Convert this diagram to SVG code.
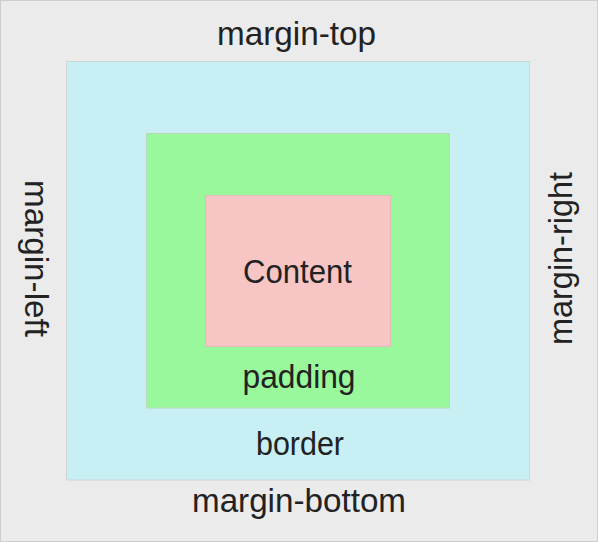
<svg xmlns="http://www.w3.org/2000/svg" width="598" height="542" viewBox="0 0 598 542">
<style>
  .lbl { font-family: "Liberation Sans", Arial, sans-serif; font-size: 34px; fill: #222222; }
  .box { stroke-width: 1; }
</style>
<g id="margin">
  <rect x="0.5" y="0.5" width="597" height="541" fill="#ebebeb" stroke="#cdcdcd"/>
  <text class="lbl" x="296.5" y="45" text-anchor="middle" textLength="159" lengthAdjust="spacingAndGlyphs">margin-top</text>
  <text class="lbl" x="299" y="512" text-anchor="middle" textLength="214" lengthAdjust="spacingAndGlyphs">margin-bottom</text>
  <text class="lbl" transform="translate(25,258.5) rotate(90)" x="0" y="0" text-anchor="middle" textLength="157" lengthAdjust="spacingAndGlyphs">margin-left</text>
  <text class="lbl" transform="translate(572,258.5) rotate(-90)" x="0" y="0" text-anchor="middle" textLength="173" lengthAdjust="spacingAndGlyphs">margin-right</text>
</g>
<g id="border">
  <rect class="box" x="66.5" y="61.5" width="463" height="418.5" fill="#c8eff4" stroke="#cfd6d8"/>
  <text class="lbl" x="300" y="455" text-anchor="middle" textLength="88" lengthAdjust="spacingAndGlyphs">border</text>
</g>
<g id="padding">
  <rect class="box" x="146.5" y="133.5" width="303" height="274.5" fill="#98f89b" stroke="#bcd8bc"/>
  <text class="lbl" x="299" y="388" text-anchor="middle" textLength="113" lengthAdjust="spacingAndGlyphs">padding</text>
</g>
<g id="content">
  <rect class="box" x="205.5" y="195.5" width="185" height="151" fill="#f8c5c5" stroke="#e0bcbc"/>
  <text class="lbl" x="297.5" y="283" text-anchor="middle" textLength="109" lengthAdjust="spacingAndGlyphs">Content</text>
</g>
</svg>
